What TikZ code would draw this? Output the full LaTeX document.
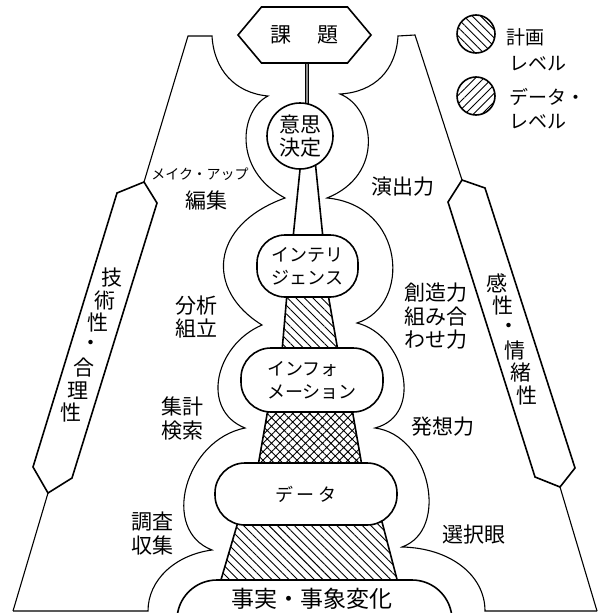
\documentclass[tikz,border=0pt]{standalone}
\usepackage{fontspec}
\newfontfamily\jp{Noto Sans CJK JP}
\usetikzlibrary{shapes.symbols,patterns.meta,backgrounds,calc}
\begin{document}
\begin{tikzpicture}[x=1pt,y=-1pt,
  outl/.style={line width=1.1pt},
  pen/.style={line width=1.6pt,line join=miter},
  nbox/.style={draw,line width=1.6pt,fill=white,inner sep=0pt},
  stadium/.style={nbox,rectangle,rounded corners=#1},
  lab/.style={font=\jp\fontsize{21}{23.5}\selectfont,align=center,inner sep=0pt},
  inlab/.style={font=\jp\fontsize{18}{23}\selectfont},
  leglab/.style={font=\jp\fontsize{19}{21}\selectfont,inner sep=0pt,anchor=west},
  hatchA/.style={pattern={Lines[angle=-45,distance=6pt,line width=0.9pt]}},
  hatchB/.style={pattern={Lines[angle=45,distance=6pt,line width=0.9pt]}},
  crossH/.style={pattern={Hatch[angle=45,distance=6pt,line width=0.9pt]}},
  trap/.style={draw,line width=1.6pt,line join=miter}
]
\useasboundingbox (0,0) rectangle (600,613);
\clip (0,0) rectangle (600,613);

% ---- outer outline, left ----
\draw[outl] (13,611) -- (48,493);
\draw[outl] (144,182) -- (188,36) -- (212,36)
  .. controls (214,70) and (235,93) .. (268,96)
  .. controls (240,110) and (232,170) .. (285,198)
  .. controls (210,225) and (205,290) .. (262,325)
  .. controls (215,345) and (200,410) .. (245,428)
  .. controls (185,440) and (160,530) .. (212,550)
  .. controls (175,555) and (148,580) .. (148,611) -- (13,611);
% ---- outer outline, right ----
\draw[outl] (597,611) -- (560,487);
\draw[outl] (462,180) -- (415,35) -- (398,36)
  .. controls (396,70) and (375,92) .. (340,94)
  .. controls (375,108) and (385,175) .. (327,198)
  .. controls (405,205) and (412,305) .. (357,323)
  .. controls (405,335) and (425,415) .. (375,428)
  .. controls (430,435) and (450,530) .. (402,547)
  .. controls (450,548) and (485,575) .. (485,611) -- (597,611);

% ---- pencils ----
\draw[pen] (144,182) -- (157,203) -- (72,478) -- (48,493) -- (33,467) -- (117,193) -- cycle;
\draw[pen] (462,180) -- (485,188) -- (575,468) -- (560,487) -- (535,477) -- (448,202) -- cycle;
\foreach \c [count=\i from 0] in {技,術,性,・,合,理,性}
  \node[lab] (tl\i) at ({112-6.9*\i},{278+22.5*\i}) {\c};
\foreach \c [count=\i from 0] in {感,性,・,情,緒,性}
  \node[lab] (tr\i) at ({497+6*\i},{283+22.5*\i}) {\c};

% ---- central stack ----
\node[signal, signal to=west and east, signal pointer angle=100, nbox,
      minimum width=133pt, minimum height=56pt, lab] (kadai) at (304.5,35) {課\hspace{26pt}題};
\node[nbox, circle, minimum size=66pt, lab] (ishi) at (300,136) {意思\\決定};
\node[stadium=28pt, minimum width=101pt, minimum height=62pt, inlab, align=center] (intel) at (307.5,266) {インテリ\\ジェンス};
\node[stadium=30pt, minimum width=142pt, minimum height=64pt, inlab, align=left] (info) at (312,380) {インフォ\\メーション};
\node[stadium=30pt, minimum width=182pt, minimum height=62pt, inlab] (data) at (306,494) {デ\hspace{4pt}ー\hspace{4pt}タ};
\node[nbox, rectangle, rounded corners=40pt, minimum width=275pt, minimum height=80pt] (base) at (314.5,620) {};
\node[lab, font=\jp\fontsize{23}{25}\selectfont] (jijitsu) at (312,599) {事実・事象変化};

\begin{scope}[on background layer]
  \coordinate (s1) at ($(kadai.south)+(2.5,-3)$);
  \draw[line width=1.4pt, double=black!45, double distance=1.3pt] (s1) -- (s1 |- ishi.center);
  \draw[trap, fill=white] ($(ishi.south)+(0.8,-8)$) -- ($(intel.north)+(-14.5,4)$)
     -- ($(intel.north)+(15.5,4)$) -- ($(ishi.south)+(15.2,-8)$) -- cycle;
  \draw[trap, hatchA] ($(intel.south)+(-20.5,-4)$) -- ($(intel.south)+(20.5,-4)$)
     -- ($(info.north)+(26,4)$) -- ($(info.north)+(-30,4)$) -- cycle;
  \draw[trap, crossH] ($(info.south)+(-44,-4)$) -- ($(info.south)+(40,-4)$)
     -- ($(data.north)+(56,4)$) -- ($(data.north)+(-48,4)$) -- cycle;
  \draw[trap, hatchA] ($(data.south)+(-68,-4)$) -- ($(data.south)+(76,-4)$)
     -- ($(base.north)+(83.5,4)$) -- ($(base.north)+(-94.5,4)$) -- cycle;
\end{scope}

% ---- side labels ----
\node[lab, font=\jp\fontsize{14}{16}\selectfont] (makeup) at (200,174) {メイク・アップ};
\node[lab] (henshu) at (206,200) {編集};
\node[lab] (enshutsu) at (403,187) {演出力};
\node[lab] (bunseki) at (196,317) {分析\\組立};
\node[lab] (sozo) at (436,316.5) {創造力\\組み合\\わせ力};
\node[lab] (shukei) at (182,418.5) {集計\\検索};
\node[lab] (hasso) at (443,427) {発想力};
\node[lab] (chosa) at (152,533.5) {調査\\収集};
\node[lab] (sentaku) at (474,535) {選択眼};

% ---- legend ----
\node[draw, circle, line width=1.6pt, minimum size=38pt, inner sep=0pt, hatchA] (leg1) at (476,34) {};
\node[leglab] (leg1a) at (506,37) {計画};
\node[leglab] (leg1b) at (509,64) {レベル};
\node[draw, circle, line width=1.6pt, minimum size=38pt, inner sep=0pt, hatchB] (leg2) at (476,96) {};
\node[leglab] (leg2a) at (509,97) {データ・};
\node[leglab] (leg2b) at (509,122) {レベル};
\end{tikzpicture}
\end{document}
